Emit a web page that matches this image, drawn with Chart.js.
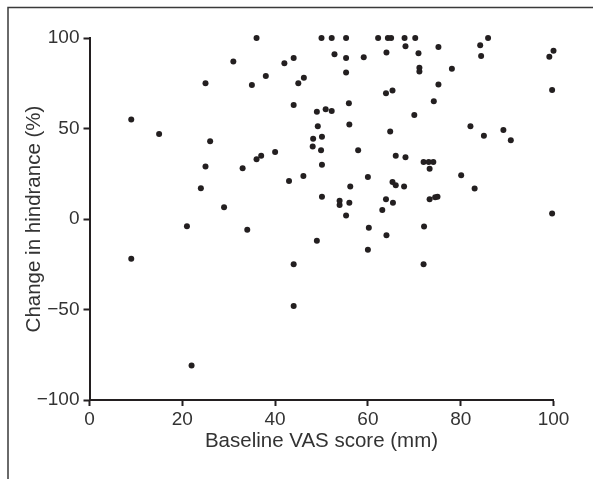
<!DOCTYPE html>
<html>
<head>
<meta charset="utf-8">
<script src="https://cdn.jsdelivr.net/npm/chart.js@4"></script>
<style>
  body { margin: 0; background: #fff; }
  canvas { display: block; }
</style>
</head>
<body>
<canvas id="vasChart" width="593" height="479"></canvas>
<script>
  // baseline VAS score (mm)
  var baselineVas = [
    9, 15, 25, 26, 25, 24, 29, 21, 31, 36, 35, 38, 42, 44, 45, 44, 33, 36, 37, 40,
    43, 34, 9, 44, 44, 22, 49, 64, 60, 72,
    50, 52.2, 55.3, 62.2, 64.3, 65, 67.9, 70.2, 85.9,
    52.8, 55.3, 59.1, 64, 68.1, 70.9, 75.2, 84.2, 84.4, 99.1, 100,
    55.3, 71.1, 71.1, 78.1, 46.2, 75.2, 63.9, 65.3, 99.7, 55.9, 74.2,
    49, 50.9, 52.2, 70, 49.2, 56, 64.8, 82.1, 89.2, 85, 90.8,
    48.2, 50.1, 48.1, 49.9, 57.9, 50.1, 66, 68.1, 72, 73.1, 74.1, 73.3, 80.1,
    46.1, 60, 56.2, 65.3, 66, 67.8, 83, 50.1, 53.9, 53.9, 56, 63.9, 65.4,
    73.3, 74.5, 75, 63.1, 55.3, 99.7, 60.2, 72.1
  ];
  // change in hindrance (%)
  var hindranceChange = [
    55, 47, 75, 43, 29, 17, 6.5, -4, 87, 100, 74, 79, 86, 89, 75, 63, 28, 33, 35, 37,
    21, -6, -22, -25, -48, -81, -12, -9, -17, -25,
    100, 100, 100, 100, 100, 100, 100, 100, 100,
    91, 89, 89.4, 92, 95.5, 91.6, 95, 96, 90, 89.6, 93,
    81, 83.5, 81.5, 83, 78, 74.3, 69.5, 71, 71.3, 64, 65,
    59.2, 60.7, 59.6, 57.5, 51.3, 52.2, 48.3, 51.3, 49.2, 46, 43.5,
    44.4, 45.4, 40, 38, 38, 30, 35, 34.1, 31.5, 31.5, 31.5, 27.7, 24.2,
    23.8, 23.2, 17.9, 20.5, 18.6, 17.9, 16.8, 12.3, 10.1, 7.7, 9, 10.9, 9,
    10.9, 12, 12.3, 5, 2, 3.1, -4.8, -4.2
  ];
  var xTicks = [0, 20, 40, 60, 80, 100];
  var yTicks = [-100, -50, 0, 50, 100];

  var inkColor = '#231f20';
  var fontFamily = '"Liberation Sans", Arial, Helvetica, sans-serif';

  var points = baselineVas.map(function (x, i) {
    return { x: x, y: hindranceChange[i] };
  });

  // thin frame along the top and left edge of the figure
  var framePlugin = {
    id: 'frame',
    beforeDraw: function (chart) {
      var ctx = chart.ctx;
      ctx.save();
      ctx.strokeStyle = '#3a3a3a';
      ctx.lineWidth = 1.5;
      ctx.beginPath();
      ctx.moveTo(593, 7.5);
      ctx.lineTo(8, 7.5);
      ctx.lineTo(8, 479);
      ctx.stroke();
      ctx.restore();
    }
  };

  function minusLabel(value) {
    return value < 0 ? '\u2212' + Math.abs(value) : '' + value;
  }

  var ctx = document.getElementById('vasChart').getContext('2d');
  window.vasChart = new Chart(ctx, {
    type: 'scatter',
    data: {
      datasets: [{
        data: points,
        backgroundColor: inkColor,
        borderWidth: 0,
        pointRadius: 3,
        pointHoverRadius: 3,
        clip: false
      }]
    },
    options: {
      responsive: false,
      animation: false,
      layout: { padding: { left: 0, top: 38, right: 39.5, bottom: 0 } },
      plugins: { legend: { display: false }, tooltip: { enabled: false } },
      scales: {
        x: {
          type: 'linear',
          min: 0,
          max: 100,
          afterBuildTicks: function (scale) {
            scale.ticks = xTicks.map(function (v) { return { value: v }; });
          },
          afterFit: function (scale) { scale.height = 79; },
          border: { display: true, color: inkColor, width: 2 },
          grid: { drawOnChartArea: false, drawTicks: true, tickLength: 6, tickWidth: 2, tickColor: inkColor },
          ticks: { color: '#333', font: { family: fontFamily, size: 19 }, padding: 2, callback: minusLabel },
          title: {
            display: true,
            text: 'Baseline VAS score (mm)',
            color: '#333',
            font: { family: fontFamily, size: 20.5 },
            padding: { top: 0, bottom: 25 }
          }
        },
        y: {
          type: 'linear',
          min: -100,
          max: 100,
          afterBuildTicks: function (scale) {
            scale.ticks = yTicks.map(function (v) { return { value: v }; });
          },
          afterFit: function (scale) { scale.width = 89.5; },
          border: { display: true, color: inkColor, width: 2 },
          grid: { drawOnChartArea: false, drawTicks: true, tickLength: 6, tickWidth: 2, tickColor: inkColor },
          ticks: { color: '#333', font: { family: fontFamily, size: 19 }, padding: 4, callback: minusLabel },
          title: {
            display: true,
            text: 'Change in hindrance (%)',
            color: '#333',
            font: { family: fontFamily, size: 20.5 },
            padding: { top: 22, bottom: 0 }
          }
        }
      }
    },
    plugins: [framePlugin]
  });
</script>
</body>
</html>
